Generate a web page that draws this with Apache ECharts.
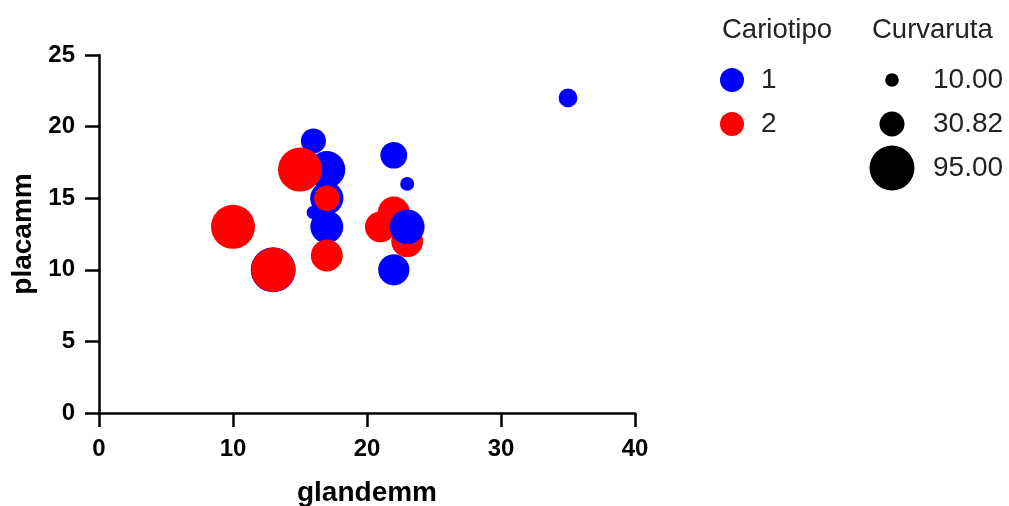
<!DOCTYPE html>
<html><head><meta charset="utf-8">
<script src="https://cdn.jsdelivr.net/npm/echarts@6/dist/echarts.min.js"></script>
<style>html,body{margin:0;padding:0;background:#fff}#c{width:1009px;height:506px}</style>
</head><body><div id="c"></div>
<script>
// ---- data (drawing order) ----
const glandemm  = [35, 16, 17, 22, 23, 17, 16, 17, 13, 22, 15, 17, 17, 10, 13, 22, 21, 23, 23];
const placamm   = [22, 19, 17, 18, 16, 15, 14, 13, 10, 10, 17, 15, 11, 13, 10, 14, 13, 12, 13];
const curvaruta = [18, 31, 65, 35, 10.5, 53, 10, 52, 95, 47, 91, 32, 49, 91, 92, 49, 46, 49, 58];
const cariotipo = [1, 1, 1, 1, 1, 1, 1, 1, 1, 1, 2, 2, 2, 2, 2, 2, 2, 2, 1];
const cariotipoLevels = ['1', '2'];
const sizeLegendValues = [10.00, 30.82, 95.00];
const legendTitles = ['Cariotipo', 'Curvaruta'];
const xAxisRange = [0, 40, 10];
const yAxisRange = [0, 25, 5];

// ---- styling ----
const FONT = 'Liberation Sans, Arial, sans-serif';
const catColors = ['#0000ff', '#ff0000'];
function diam(v) { return 2 * (2.384 * Math.sqrt(v) - 0.74); }
const CAT_DOT = 24;
const legendLabel = { show: true, position: 'right', fontSize: 28, color: '#222', fontFamily: FONT };

const mainData = glandemm.map((x, i) => ({
  value: [x, placamm[i], curvaruta[i]],
  itemStyle: { color: catColors[cariotipo[i] - 1] }
}));

const rowNames = ['r0', 'r1', 'r2'];

const series = [{
  type: 'scatter', name: 'data', data: mainData,
  symbol: 'circle',
  symbolSize: v => diam(v[2]),
  itemStyle: { opacity: 1 },
  emphasis: { disabled: true },
  z: 3
}, {
  // legend: Cariotipo
  type: 'scatter', xAxisIndex: 1, yAxisIndex: 1, silent: true,
  symbol: 'circle', symbolSize: CAT_DOT,
  data: cariotipoLevels.map((n, i) => ({
    value: [legendTitles[0], rowNames[i]], name: n,
    itemStyle: { color: catColors[i], opacity: 1 },
    label: Object.assign({}, legendLabel, { formatter: n, distance: 17 })
  })),
  emphasis: { disabled: true }
}, {
  // legend: Curvaruta
  type: 'scatter', xAxisIndex: 1, yAxisIndex: 1, silent: true,
  symbol: 'circle',
  data: sizeLegendValues.map((v, i) => ({
    value: [legendTitles[1], rowNames[i], v],
    symbolSize: diam(v),
    itemStyle: { color: '#000', opacity: 1 },
    label: Object.assign({}, legendLabel, { formatter: v.toFixed(2), distance: 41 - diam(v) / 2 })
  })),
  emphasis: { disabled: true }
}];

const axisCommon = {
  type: 'value',
  axisLine: { show: true, onZero: false, lineStyle: { color: '#000', width: 2.5 } },
  axisTick: { show: true, inside: false, length: 14, lineStyle: { color: '#000', width: 2.5 } },
  splitLine: { show: false },
  nameLocation: 'middle',
  nameTextStyle: { fontSize: 28, fontWeight: 'bold', color: '#000', fontFamily: FONT }
};
const titleStyle = { fontSize: 27.5, fontWeight: 'normal', color: '#222', fontFamily: FONT };

const option = {
  animation: false,
  backgroundColor: '#fff',
  textStyle: { fontFamily: FONT },
  title: [
    { text: legendTitles[0], left: 722, top: 16, padding: 0, textStyle: titleStyle },
    { text: legendTitles[1], left: 872, top: 16, padding: 0, textStyle: titleStyle }
  ],
  grid: [
    { left: 99, right: 374, top: 55, bottom: 93, containLabel: false, outerBoundsMode: 'none' },
    { left: 652, width: 320, top: 58, height: 132, outerBoundsMode: 'none' }
  ],
  xAxis: [Object.assign({}, axisCommon, {
    min: xAxisRange[0], max: xAxisRange[1], interval: xAxisRange[2],
    name: 'glandemm', nameGap: 66,
    axisLabel: { fontSize: 24, fontWeight: 'bold', color: '#000', margin: 24, fontFamily: FONT }
  }), {
    type: 'category', gridIndex: 1, data: legendTitles, show: false
  }],
  yAxis: [Object.assign({}, axisCommon, {
    min: yAxisRange[0], max: yAxisRange[1], interval: yAxisRange[2],
    name: 'placamm', nameGap: 59,
    axisLabel: { fontSize: 24, fontWeight: 'bold', color: '#000', margin: 24, fontFamily: FONT }
  }), {
    type: 'category', gridIndex: 1, data: rowNames, inverse: true, show: false
  }],
  series: series
};
const chart = echarts.init(document.getElementById('c'), null, { renderer: 'canvas' });
chart.setOption(option);
</script></body></html>
